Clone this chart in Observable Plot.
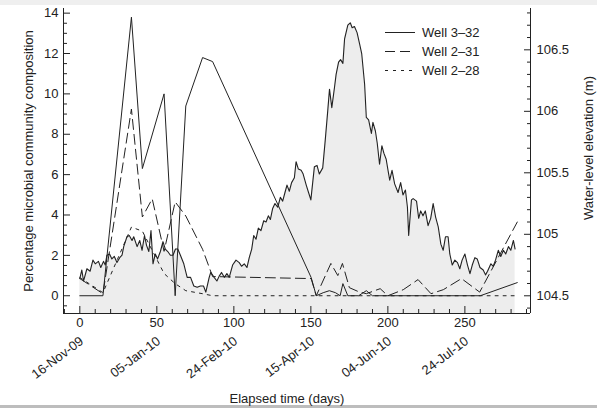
<!DOCTYPE html>
<html><head><meta charset="utf-8">
<script src="https://cdn.jsdelivr.net/npm/d3@7"></script>
<script src="https://cdn.jsdelivr.net/npm/@observablehq/plot@0.6"></script>
<style>
html,body{margin:0;padding:0;background:#fff;}
#wrap{position:relative;width:597px;height:408px;overflow:hidden;background:#fff;}
#topband{position:absolute;left:0;top:0;width:597px;height:5px;background:#efefef;}
#botband{position:absolute;left:0;top:405px;width:597px;height:3px;background:#bdbdbd;}
</style></head><body><div id="wrap"><div id="topband"></div><div id="botband"></div></div>
<script>
// ---- data ----
const waterDays = [0,1.3,2.4,4.6,6.7,8.5,10,12.1,13.6,15.4,16.5,17.6,19.3,20.8,22.4,24.1,25.9,27.4,28.5,30.6,32.1,33.9,35,37.2,38.9,40.4,42,43.3,44.8,46.2,47.5,49,50.5,52.3,54,55.5,57.1,58.8,60.5,62.1,63.6,65.3,67.5,69.7,71.9,74,76.2,78.3,80.3,81.8,84,85,87.2,89,90.5,92,93.8,95.5,97,99.2,101.4,103.5,105,106.8,108.5,110,111.6,112.9,114.4,115.9,117.6,119.4,120.9,122.4,123.7,125.2,126.7,128.5,130.2,131.7,133.2,134.5,136,137.5,139.3,140.4,141.9,143.7,145,147,148.5,150,152.3,154,155.5,157.7,159.3,161,162.1,163.6,165.4,166.4,168,169.3,170.8,171.9,174,175.6,176.8,178.3,180,181.6,183,184.9,186,187.5,189.3,190.3,191.9,193.1,194.6,196.1,197.4,198.9,200.1,201.2,202.7,204.4,206.6,208.3,209.8,211.4,212.7,213.5,215.3,216.4,218.6,220,221.3,222.8,224.3,226.1,227.8,229.4,231,232.7,234.4,235.9,237.4,239.1,240.2,241.8,243.5,245.2,246.7,248.2,250,251.7,253.3,254.8,256.5,258,259.8,261.9,263.4,264.7,266.9,268.4,269.9,271.7,273.3,275,276.5,278.3,279.8,281.5,282.6];
const waterLevel = [104.64,104.71,104.62,104.72,104.70,104.79,104.76,104.78,104.73,104.78,104.75,104.83,104.84,104.80,104.82,104.77,104.81,104.83,104.90,104.98,104.99,104.95,104.98,104.90,104.95,104.87,104.99,104.91,104.86,105.03,104.76,104.84,104.80,104.86,104.94,104.88,104.86,104.83,104.83,104.88,104.88,104.83,104.76,104.65,104.65,104.58,104.57,104.58,104.58,104.53,104.65,104.69,104.65,104.62,104.66,104.69,104.65,104.68,104.65,104.75,104.79,104.77,104.74,104.76,104.73,104.81,104.88,104.99,104.96,105.05,105.03,105.11,105.10,105.15,105.12,105.21,105.25,105.22,105.30,105.27,105.34,105.40,105.35,105.42,105.46,105.59,105.53,105.52,105.49,105.40,105.34,105.28,105.55,105.56,105.49,105.54,105.76,106.01,106.18,106.03,106.20,106.30,106.40,106.42,106.39,106.59,106.70,106.72,106.68,106.69,106.64,106.55,106.47,106.22,105.95,105.93,105.82,105.91,105.84,105.74,105.57,105.72,105.66,105.61,105.52,105.44,105.52,105.41,105.34,105.42,105.32,105.36,105.22,104.99,105.28,105.29,105.27,105.13,105.19,105.15,105.19,105.07,105.13,105.25,105.14,105.06,104.92,104.87,104.98,104.98,104.84,104.75,104.79,104.77,104.72,104.79,104.84,104.75,104.68,104.75,104.81,104.80,104.73,104.71,104.67,104.70,104.76,104.74,104.79,104.87,104.82,104.87,104.84,104.90,104.87,104.95,104.88];

const well332Days = [0,15,33.5,40.6,54.7,61.9,68.8,79.7,86.2,150.2,153.5,158,162,166,169,170.8,174,181,186,190,260,284];
const well332Pct  = [0,0,13.8,6.3,10.0,0,9.4,11.8,11.6,0.9,0,0.15,0.25,0.15,0,0.6,0,0,0.25,0,0,0.65];

const well231Days = [0,15,33.5,40.6,47,54.7,61.9,68.8,79.7,86.2,150.2,153.5,163,167.5,170.5,175,181,186,195,200,210,219.6,228,236,247.8,259.6,284];
const well231Pct  = [0.85,0.1,9.25,3.9,4.8,2.2,4.65,3.95,2.3,0.95,0.85,0,1.6,1.0,1.6,0.4,0.2,0.1,0.35,0,0.3,0.8,0.1,0.3,0.85,0.18,3.65];

const well228Days = [0,15,33.5,40.6,54.7,61.9,68.8,79.7,86.2,284];
const well228Pct  = [0.9,0.15,3.4,3.2,1.1,0.6,0.25,0.1,0,0];

const seriesNames = ["Well 3\u201332","Well 2\u201331","Well 2\u201328"];

const xTicks = [0,50,100,150,200,250];
const dateLabels = ["16-Nov-09","05-Jan-10","24-Feb-10","15-Apr-10","04-Jun-10","24-Jul-10"];
const yTicks = [0,2,4,6,8,10,12,14];
const waterTicks = [104.5,105,105.5,106,106.5];

// ---- scales / helpers ----
const xDomain = [-10.6, 292.6];
const yDomain = [-0.88, 14.23];
const wDomain = [104.356, 106.836];
const w2y = w => yDomain[0] + (w - wDomain[0]) * (yDomain[1]-yDomain[0]) / (wDomain[1]-wDomain[0]);

const water = waterDays.map((d,i)=>({day:d, w:waterLevel[i]}));
const w332 = well332Days.map((d,i)=>({day:d, v:well332Pct[i]}));
const w231 = well231Days.map((d,i)=>({day:d, v:well231Pct[i]}));
const w228 = well228Days.map((d,i)=>({day:d, v:well228Pct[i]}));
const dateTable = xTicks.map((t,i)=>({day:t, label:dateLabels[i]}));

const xMinor = d3.range(-10, 291, 10).filter(v => v % 50 !== 0);
const yMinor = d3.range(-0.5, 14.01, 0.5).filter(v => v % 2 !== 0);
const wMinor = d3.range(104.4, 106.81, 0.1).map(v=>+v.toFixed(1)).filter(v => Math.abs(v*2 - Math.round(v*2))>1e-6);

const ink = "#222";
const font = "'Liberation Sans', Arial, sans-serif";
const styles = {
  "Well 3\u201332": null,
  "Well 2\u201331": "10,5",
  "Well 2\u201328": "3,5"
};

const chart = Plot.plot({
  width: 597, height: 408,
  marginLeft: 63, marginRight: 67, marginTop: 8, marginBottom: 95,
  style: {fontFamily: font, fontSize: "13px", color: ink, background: "transparent"},
  x: {domain: xDomain, axis: null},
  y: {domain: yDomain, axis: null},
  marks: [
    Plot.areaY(water, {x: "day", y1: yDomain[0], y2: d => w2y(d.w), fill: "#ededed"}),
    Plot.lineY(water, {x: "day", y: d => w2y(d.w), stroke: ink, strokeWidth: 1.1}),
    Plot.lineY(w332, {x: "day", y: "v", stroke: ink, strokeWidth: 1}),
    Plot.lineY(w231, {x: "day", y: "v", stroke: ink, strokeWidth: 1, strokeDasharray: styles["Well 2\u201331"]}),
    Plot.lineY(w228, {x: "day", y: "v", stroke: ink, strokeWidth: 1, strokeDasharray: styles["Well 2\u201328"]}),
    // frame lines
    Plot.ruleX([xDomain[0], xDomain[1]], {stroke: ink}),
    Plot.ruleY([yDomain[0]], {stroke: ink}),
    // x axis
    Plot.axisX({anchor: "bottom", ticks: xTicks, tickSize: -7, tickFormat: () => "", label: null, stroke: ink}),
    Plot.axisX({anchor: "bottom", ticks: xMinor, tickSize: -4, tickFormat: () => "", label: null, stroke: ink}),
    Plot.axisX({anchor: "bottom", ticks: xTicks, tickSize: 0, tickPadding: 4, label: null, fill: ink, fontSize: 13}),
    Plot.text(dateTable, {x: "day", text: "label", frameAnchor: "bottom", dx: 2, dy: 26, rotate: -37, textAnchor: "end", lineAnchor: "middle", fill: ink, fontSize: 13}),
    // left y axis
    Plot.axisY({anchor: "left", ticks: yTicks, tickSize: -7, tickFormat: () => "", label: null, stroke: ink}),
    Plot.axisY({anchor: "left", ticks: yMinor, tickSize: -4, tickFormat: () => "", label: null, stroke: ink}),
    Plot.axisY({anchor: "left", ticks: yTicks, tickSize: 0, tickPadding: 5, label: null, fill: ink, fontSize: 13}),
    // right water axis
    Plot.axisY({anchor: "right", ticks: waterTicks.map(w2y), tickSize: -7, tickFormat: () => "", label: null, stroke: ink}),
    Plot.axisY({anchor: "right", ticks: wMinor.map(w2y), tickSize: -4, tickFormat: () => "", label: null, stroke: ink}),
    Plot.axisY({anchor: "right", ticks: waterTicks.map(w2y), tickSize: 0, tickPadding: 6, label: null, tickFormat: (d,i) => String(waterTicks[i]), fill: ink, fontSize: 13}),
    // titles
    Plot.text(["Percentage microbial community composition"], {frameAnchor: "left", dx: -35, rotate: -90, textAnchor: "middle", lineAnchor: "middle", fill: ink, fontSize: 13}),
    Plot.text(["Water-level elevation (m)"], {frameAnchor: "right", dx: 58, dy: -13, rotate: -90, textAnchor: "middle", lineAnchor: "middle", fill: ink, fontSize: 13}),
    Plot.text(["Elapsed time (days)"], {frameAnchor: "bottom", dx: -10, dy: 85, textAnchor: "middle", lineAnchor: "middle", fill: ink, fontSize: 13})
  ]
});
chart.style.position = "absolute";
chart.style.left = "0px";
chart.style.top = "0px";
document.getElementById("wrap").appendChild(chart);

// legend
const svg = d3.select(chart);
const lg = svg.append("g").attr("font-family", font).attr("font-size", 13).attr("fill", ink).attr("text-anchor", "start");
seriesNames.forEach((name, i) => {
  const yy = 32.5 + i * 19;
  lg.append("line").attr("x1", 385).attr("x2", 415).attr("y1", yy).attr("y2", yy)
    .attr("stroke", ink).attr("stroke-width", 1)
    .attr("stroke-dasharray", styles[name]);
  lg.append("text").attr("x", 422).attr("y", yy).attr("dy", "0.35em").attr("text-anchor", "start").text(name);
});
</script>
</body></html>
